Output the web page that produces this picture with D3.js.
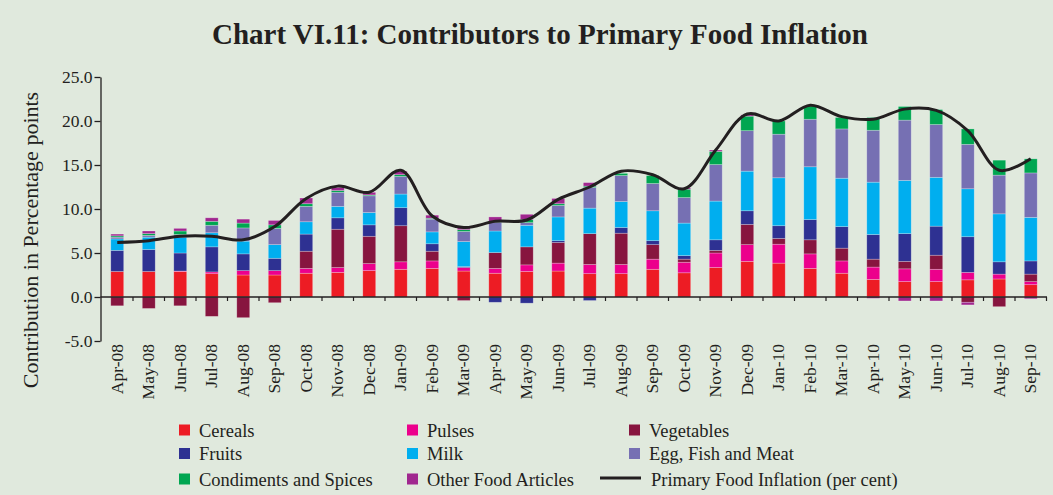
<!DOCTYPE html>
<html>
<head>
<meta charset="utf-8">
<script src="https://cdn.jsdelivr.net/npm/d3@7"></script>
<style>
  body { margin: 0; background: #e0e9dd; }
  svg { display: block; font-family: "Liberation Serif", "Times New Roman", serif; }
</style>
</head>
<body>
<div id="chart"></div>
<script>
// months on the x axis
const months = ["Apr-08","May-08","Jun-08","Jul-08","Aug-08","Sep-08","Oct-08","Nov-08","Dec-08","Jan-09",
  "Feb-09","Mar-09","Apr-09","May-09","Jun-09","Jul-09","Aug-09","Sep-09","Oct-09","Nov-09",
  "Dec-09","Jan-10","Feb-10","Mar-10","Apr-10","May-10","Jun-10","Jul-10","Aug-10","Sep-10"];

// contributions (percentage points)
const cereals    = [2.9,2.9,2.9,2.65,2.5,2.5,2.7,2.8,3.0,3.15, 3.25,2.95,2.7,2.9,2.95,2.65,2.65,3.15,2.75,3.35, 4.05,3.85,3.25,2.7,2.0,1.75,1.75,1.95,2.05,1.4];
const pulses     = [0,0,0.05,0.2,0.5,0.5,0.55,0.55,0.8,0.85, 0.85,0.4,0.55,0.75,0.9,1.05,1.05,1.15,1.2,1.65, 1.9,2.15,1.65,1.4,1.4,1.45,1.4,0.85,0.55,0.35];
const vegetables = [-1.0,-1.3,-1.0,-2.2,-2.35,-0.65,1.95,4.35,3.1,4.1, 1.1,-0.4,1.8,2.05,2.35,3.5,3.55,1.65,0.35,0.3, 2.3,0.65,1.6,1.45,0.9,0.85,1.6,-0.6,-1.1,0.85];
const fruits     = [2.4,2.5,2.05,2.85,1.9,1.4,1.95,1.3,1.3,2.05, 0.85,0.1,-0.6,-0.7,0.2,-0.4,0.65,0.45,0.4,1.2, 1.55,1.45,2.3,2.45,2.8,3.15,3.3,4.05,1.4,1.5];
const milk       = [1.3,1.4,1.8,1.6,1.45,1.55,1.4,1.3,1.4,1.55, 1.35,2.85,2.45,2.45,2.7,2.9,2.95,3.4,3.7,4.4, 4.5,5.45,6.0,5.5,5.95,6.05,5.55,5.45,5.45,4.95];
const eggFishMeat= [0.2,0.2,0.3,0.85,1.5,1.85,1.75,1.6,1.9,2.0, 1.45,1.15,1.0,0.3,1.3,2.35,2.95,3.1,2.9,4.15, 4.6,4.95,5.4,5.6,5.9,6.85,6.0,5.05,4.4,5.05];
const condiments = [0.15,0.2,0.4,0.45,0.55,0.4,0.3,0.2,0.1,0.2, 0.1,0.2,0.1,0.35,0.2,0.15,0.25,0.9,0.95,1.5, 1.65,1.5,1.5,1.3,1.45,1.55,1.7,1.75,1.7,1.6];
const otherFood  = [0.2,0.3,0.3,0.4,0.45,0.5,0.65,0.35,0.3,0.4, 0.35,0.4,0.5,0.6,0.6,0.4,0,0,0.15,0.15, 0.15,0,0,0,-0.15,-0.45,-0.45,-0.3,0,-0.2];

// primary food inflation (per cent)
const inflation  = [6.2,6.4,6.9,6.9,6.5,8.0,11.2,12.6,11.9,14.4, 9.2,7.9,8.6,8.75,11.1,12.5,14.3,13.9,12.3,16.7, 20.8,20.0,21.8,20.5,20.2,21.35,21.2,18.9,14.4,15.7];

const yTicks = [-5, 0, 5, 10, 15, 20, 25];

const series = [
  { key: "Cereals", values: cereals, color: "#ed1c24" },
  { key: "Pulses", values: pulses, color: "#ec008c" },
  { key: "Vegetables", values: vegetables, color: "#87153f" },
  { key: "Fruits", values: fruits, color: "#2e3192" },
  { key: "Milk", values: milk, color: "#00aeef" },
  { key: "Egg, Fish and Meat", values: eggFishMeat, color: "#7670b3" },
  { key: "Condiments and Spices", values: condiments, color: "#00a651" },
  { key: "Other Food Articles", values: otherFood, color: "#a0278f" }
];

const width = 1053, height = 495;
const svg = d3.select('#chart').append('svg')
  .attr('width', width)
  .attr('height', height);

svg.append('rect').attr('width', width).attr('height', height).attr('fill', '#e0e9dd');

// title
svg.append('text')
  .attr('x', 540)
  .attr('y', 44)
  .attr('text-anchor', 'middle')
  .style('font-size', '29px')
  .style('font-weight', 'bold')
  .attr('fill', '#231f20')
  .text('Chart VI.11: Contributors to Primary Food Inflation');

const x = d3.scaleBand()
  .domain(months)
  .range([101.5, 1046.5])
  .paddingInner(0.59)
  .paddingOuter(0.295);

const y = d3.scaleLinear()
  .domain([-5, 25])
  .range([341, 77]);

// stack (negatives go below zero)
const table = months.map((m, i) => {
  const row = { month: m };
  series.forEach(s => { row[s.key] = s.values[i]; });
  return row;
});
const stacked = d3.stack()
  .keys(series.map(s => s.key))
  .offset(d3.stackOffsetDiverging)(table);

const color = d3.scaleOrdinal()
  .domain(series.map(s => s.key))
  .range(series.map(s => s.color));

svg.append('g')
  .selectAll('g')
  .data(stacked)
  .join('g')
  .attr('fill', d => color(d.key))
  .selectAll('rect')
  .data(d => d)
  .join('rect')
  .attr('x', d => x(d.data.month))
  .attr('width', x.bandwidth())
  .attr('y', d => y(Math.max(d[0], d[1])))
  .attr('height', d => Math.abs(y(d[0]) - y(d[1])))
  .attr('stroke', '#ffffff')
  .attr('stroke-opacity', 0.35)
  .attr('stroke-width', 0.7);

// y axis
const yAxis = svg.append('g')
  .attr('transform', 'translate(100.5,0)')
  .call(d3.axisLeft(y).tickValues(yTicks).tickSize(6).tickSizeOuter(0).tickFormat(d => d.toFixed(1)));
yAxis.select('.domain').attr('stroke', '#231f20').attr('stroke-width', 1.3);
yAxis.selectAll('.tick line').attr('stroke', '#231f20').attr('stroke-width', 1.3);
yAxis.selectAll('.tick text')
  .attr('x', -8)
  .attr('fill', '#231f20')
  .style('font-size', '17.5px')
  .style('font-family', '"Liberation Serif", serif');

// x axis along zero
const xAxisG = svg.append('g').attr('transform', `translate(0,${y(0)})`);
xAxisG.append('line')
  .attr('x1', 100.5).attr('x2', 1047)
  .attr('stroke', '#231f20').attr('stroke-width', 1.3);
xAxisG.selectAll('line.tick')
  .data(months)
  .join('line')
  .attr('class', 'tick')
  .attr('x1', d => x(d) + x.bandwidth() / 2 + x.step() / 2)
  .attr('x2', d => x(d) + x.bandwidth() / 2 + x.step() / 2)
  .attr('y1', 0).attr('y2', 4)
  .attr('stroke', '#231f20').attr('stroke-width', 1.2);

// x labels (rotated) below the plot
svg.append('g')
  .selectAll('text')
  .data(months)
  .join('text')
  .attr('transform', d => `translate(${x(d) + x.bandwidth() / 2 + 5.5},344) rotate(-90)`)
  .attr('text-anchor', 'end')
  .attr('fill', '#231f20')
  .style('font-size', '17.5px')
  .text(d => d);

// y axis title
svg.append('text')
  .attr('transform', 'translate(38,240) rotate(-90)')
  .attr('text-anchor', 'middle')
  .attr('fill', '#231f20')
  .style('font-size', '22px')
  .text('Contribution in Percentage points');

// inflation line
const line = d3.line()
  .x((d, i) => x(months[i]) + x.bandwidth() / 2)
  .y(d => y(d))
  .curve(d3.curveCatmullRom.alpha(0.5));

svg.append('path')
  .datum(inflation)
  .attr('fill', 'none')
  .attr('stroke', '#231f20')
  .attr('stroke-width', 3)
  .attr('d', line);

// legend
const legendItems = [
  { key: "Cereals", col: 0, row: 0 },
  { key: "Pulses", col: 1, row: 0 },
  { key: "Vegetables", col: 2, row: 0 },
  { key: "Fruits", col: 0, row: 1 },
  { key: "Milk", col: 1, row: 1 },
  { key: "Egg, Fish and Meat", col: 2, row: 1 },
  { key: "Condiments and Spices", col: 0, row: 2 },
  { key: "Other Food Articles", col: 1, row: 2 }
];
const colX = [179, 407, 629];
const rowY = [430, 453.5, 479];

const legend = svg.append('g');
legendItems.forEach(it => {
  legend.append('rect')
    .attr('x', colX[it.col])
    .attr('y', rowY[it.row] - 5.5)
    .attr('width', 11)
    .attr('height', 11)
    .attr('fill', color(it.key));
  legend.append('text')
    .attr('x', colX[it.col] + 20)
    .attr('y', rowY[it.row] + 6.5)
    .attr('fill', '#231f20')
    .style('font-size', '18.5px')
    .text(it.key);
});
legend.append('line')
  .attr('x1', 600).attr('x2', 641)
  .attr('y1', rowY[2] - 1).attr('y2', rowY[2] - 1)
  .attr('stroke', '#231f20').attr('stroke-width', 3);
legend.append('text')
  .attr('x', 651)
  .attr('y', rowY[2] + 6.5)
  .attr('fill', '#231f20')
  .style('font-size', '18.5px')
  .text('Primary Food Inflation (per cent)');
</script>
</body>
</html>
